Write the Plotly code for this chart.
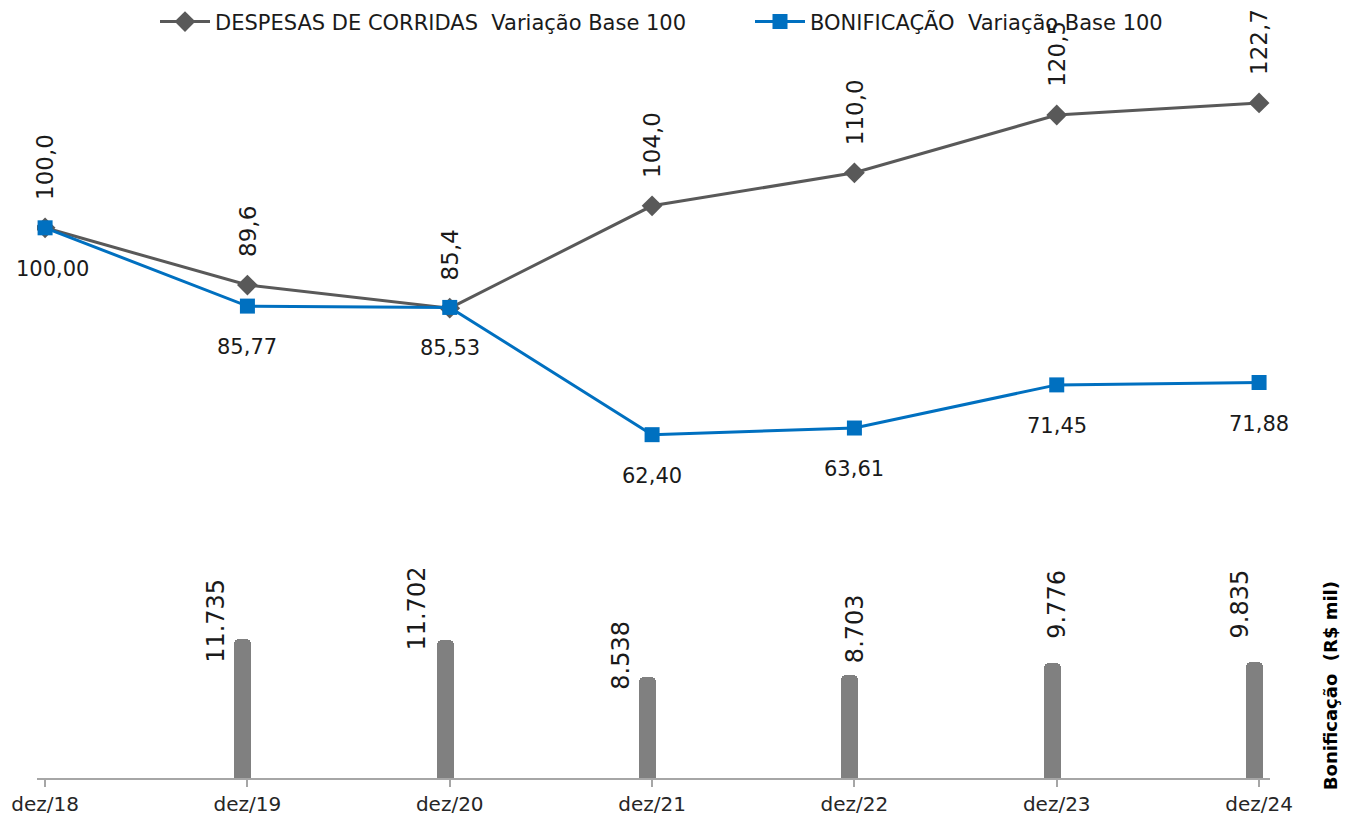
import plotly.graph_objects as go

categories = ["dez/18", "dez/19", "dez/20", "dez/21", "dez/22", "dez/23", "dez/24"]
despesas = [100.0, 89.6, 85.4, 104.0, 110.0, 120.5, 122.7]
bonif_idx = [100.00, 85.77, 85.53, 62.40, 63.61, 71.45, 71.88]
bonif_val = [None, 11735, 11702, 8538, 8703, 9776, 9835]

despesas_labels = ["100,0", "89,6", "85,4", "104,0", "110,0", "120,5", "122,7"]
bonif_idx_labels = ["100,00", "85,77", "85,53", "62,40", "63,61", "71,45", "71,88"]
bonif_val_labels = ["", "11.735", "11.702", "8.538", "8.703", "9.776", "9.835"]

# label placement styling (pixel shifts)
bar_lbl_xshift = [0, -27, -29, -27, 4, 4, -15]
bar_lbl_yshift = [0, -25, -13, -15, 10, 22, 21]
blue_lbl_xshift = [7, 0, 0, 0, 0, 0, 0]

x = list(range(len(categories)))

GRAY = "#595959"
BLUE = "#0070C0"
BAR = "#808080"
TXT = "#1a1a1a"
LBL_FONT = "DejaVu Sans, Verdana, sans-serif"

fig = go.Figure()

fig.add_trace(go.Bar(
    x=x, y=bonif_val, yaxis="y2", width=0.084, offset=-0.064,
    marker=dict(color=BAR, cornerradius=5, line=dict(width=0)),
    showlegend=False, hoverinfo="skip",
))

fig.add_trace(go.Scatter(
    x=x, y=despesas, mode="lines+markers",
    name="DESPESAS DE CORRIDAS  Variação Base 100",
    line=dict(color=GRAY, width=3),
    marker=dict(symbol="diamond", size=16, color=GRAY),
    legend="legend",
))
fig.add_trace(go.Scatter(
    x=x, y=bonif_idx, mode="lines+markers",
    name="BONIFICAÇÃO  Variação Base 100",
    line=dict(color=BLUE, width=3),
    marker=dict(symbol="square", size=15, color=BLUE),
    legend="legend2",
))

ann = []
for i in x:
    ann.append(dict(x=i, y=despesas[i], xref="x", yref="y", text=despesas_labels[i],
                    textangle=-90, showarrow=False, xanchor="center", yanchor="bottom",
                    yshift=26, font=dict(family=LBL_FONT, size=23, color=TXT)))
    ann.append(dict(x=i, y=bonif_idx[i], xref="x", yref="y", text=bonif_idx_labels[i],
                    showarrow=False, xanchor="center", yanchor="top",
                    yshift=-27, xshift=blue_lbl_xshift[i],
                    font=dict(family=LBL_FONT, size=21, color=TXT)))
    if bonif_val[i] is not None:
        ann.append(dict(x=i, y=bonif_val[i], xref="x", yref="y2", text=bonif_val_labels[i],
                        textangle=-90, showarrow=False, xanchor="center", yanchor="bottom",
                        yshift=bar_lbl_yshift[i], xshift=bar_lbl_xshift[i] - 4,
                        font=dict(family=LBL_FONT, size=24, color=TXT)))

ann.append(dict(x=1.0487, y=0.128, xref="paper", yref="paper",
                text="<b>Bonificação  (R$ mil)</b>", textangle=-90, showarrow=False,
                xanchor="center", yanchor="middle",
                font=dict(family="DejaVu Sans, sans-serif", size=18, color="#000000")))

leg_common = dict(orientation="h", xanchor="left", y=1.053, yanchor="middle",
                  font=dict(family=LBL_FONT, size=21, color=TXT),
                  bgcolor="rgba(0,0,0,0)", itemwidth=50)

fig.update_layout(
    width=1345, height=821,
    margin=dict(l=37, r=75, t=60, b=43, autoexpand=False),
    paper_bgcolor="white", plot_bgcolor="white",
    xaxis=dict(
        range=[-0.04, 6.054], tickmode="array", tickvals=x, ticktext=categories,
        showline=True, linecolor="#a6a6a6", linewidth=2,
        ticks="outside", ticklen=7, tickcolor="#a6a6a6", tickwidth=1.5,
        showgrid=False, zeroline=False,
        tickfont=dict(family=LBL_FONT, size=20, color="#262626"),
    ),
    yaxis=dict(range=[0, 130.5], visible=False, showgrid=False),
    yaxis2=dict(range=[0, 60800], overlaying="y", visible=False, showgrid=False),
    legend=dict(x=(155 - 37) / 1233, **leg_common),
    legend2=dict(x=(750 - 37) / 1233, **leg_common),
    annotations=ann,
    bargap=0,
)

fig.write_html("out.html", config={"displayModeBar": False},
               post_script="document.body.style.margin='0px';document.body.style.overflow='hidden';")
